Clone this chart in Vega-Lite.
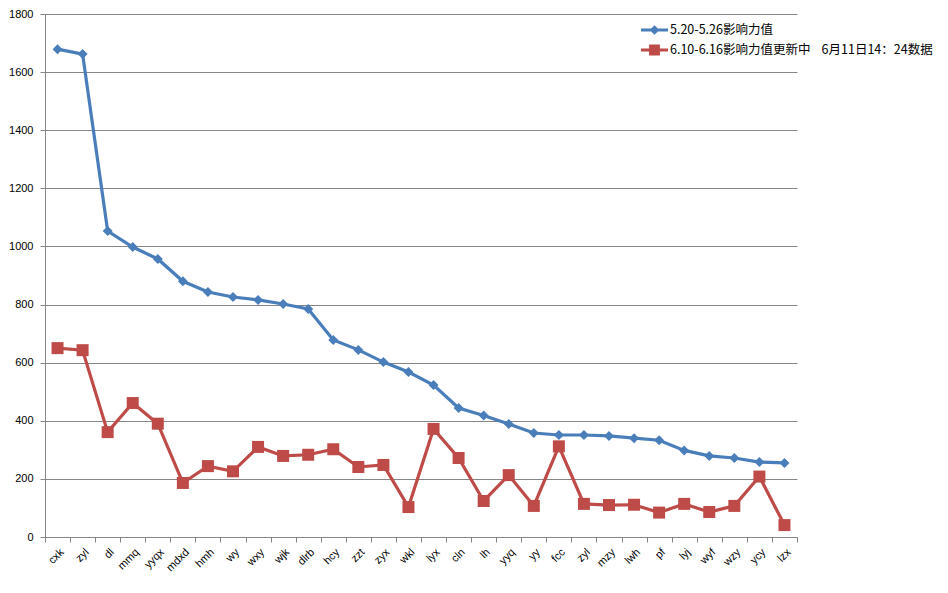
{
  "$schema": "https://vega.github.io/schema/vega-lite/v6.json",
  "width": 752,
  "height": 523,
  "autosize": "none",
  "padding": {"left": 45, "top": 14, "right": 151, "bottom": 56},
  "background": "white",
  "config": {"view": {"stroke": null}},
  "data": {"values": [
    {"k": "cxk", "s": "A", "v": 1679},
    {"k": "zyl", "s": "A", "v": 1662},
    {"k": "dl", "s": "A", "v": 1053},
    {"k": "mmq", "s": "A", "v": 998},
    {"k": "yyqx", "s": "A", "v": 957},
    {"k": "mdxd", "s": "A", "v": 880},
    {"k": "hmh", "s": "A", "v": 843},
    {"k": "wy", "s": "A", "v": 826},
    {"k": "wxy", "s": "A", "v": 816},
    {"k": "wjk", "s": "A", "v": 802},
    {"k": "dlrb", "s": "A", "v": 785},
    {"k": "hcy", "s": "A", "v": 678},
    {"k": "zzt", "s": "A", "v": 644},
    {"k": "zyx", "s": "A", "v": 602},
    {"k": "wkl", "s": "A", "v": 568},
    {"k": "lyx", "s": "A", "v": 523},
    {"k": "cln", "s": "A", "v": 444},
    {"k": "lh", "s": "A", "v": 418},
    {"k": "yyq", "s": "A", "v": 389},
    {"k": "yy", "s": "A", "v": 358},
    {"k": "fcc", "s": "A", "v": 351},
    {"k": "zyl_2", "s": "A", "v": 351},
    {"k": "mzy", "s": "A", "v": 348},
    {"k": "lwh", "s": "A", "v": 340},
    {"k": "pf", "s": "A", "v": 333},
    {"k": "lyj", "s": "A", "v": 298},
    {"k": "wyf", "s": "A", "v": 279},
    {"k": "wzy", "s": "A", "v": 272},
    {"k": "ycy", "s": "A", "v": 258},
    {"k": "lzx", "s": "A", "v": 255},
    {"k": "cxk", "s": "B", "v": 650},
    {"k": "zyl", "s": "B", "v": 643},
    {"k": "dl", "s": "B", "v": 361},
    {"k": "mmq", "s": "B", "v": 461},
    {"k": "yyqx", "s": "B", "v": 390},
    {"k": "mdxd", "s": "B", "v": 186},
    {"k": "hmh", "s": "B", "v": 244},
    {"k": "wy", "s": "B", "v": 226},
    {"k": "wxy", "s": "B", "v": 310},
    {"k": "wjk", "s": "B", "v": 279},
    {"k": "dlrb", "s": "B", "v": 283},
    {"k": "hcy", "s": "B", "v": 302},
    {"k": "zzt", "s": "B", "v": 241},
    {"k": "zyx", "s": "B", "v": 248},
    {"k": "wkl", "s": "B", "v": 103},
    {"k": "lyx", "s": "B", "v": 372},
    {"k": "cln", "s": "B", "v": 272},
    {"k": "lh", "s": "B", "v": 124},
    {"k": "yyq", "s": "B", "v": 213},
    {"k": "yy", "s": "B", "v": 107},
    {"k": "fcc", "s": "B", "v": 312},
    {"k": "zyl_2", "s": "B", "v": 114},
    {"k": "mzy", "s": "B", "v": 110},
    {"k": "lwh", "s": "B", "v": 111},
    {"k": "pf", "s": "B", "v": 84},
    {"k": "lyj", "s": "B", "v": 114},
    {"k": "wyf", "s": "B", "v": 86},
    {"k": "wzy", "s": "B", "v": 107},
    {"k": "ycy", "s": "B", "v": 208},
    {"k": "lzx", "s": "B", "v": 41}
  ]},
  "encoding": {
    "x": {
      "field": "k", "type": "nominal", "sort": null,
      "scale": {"type": "band", "paddingInner": 0, "paddingOuter": 0},
      "axis": {
        "title": null, "labelAngle": -45,
        "labelExpr": "datum.value ? split(datum.value, '_')[0] : ''",
        "tickBand": "extent", "tickSize": 5,
        "domainColor": "#868686", "tickColor": "#868686",
        "labelFont": "Liberation Sans", "labelFontSize": 11, "labelColor": "#000000",
        "labelPadding": 4
      }
    },
    "y": {
      "field": "v", "type": "quantitative",
      "scale": {"domain": [0, 1800], "nice": false},
      "axis": {
        "title": null, "format": "d",
        "values": [0, 200, 400, 600, 800, 1000, 1200, 1400, 1600, 1800],
        "grid": true, "gridColor": "#868686", "gridOpacity": 1,
        "tickSize": 5, "tickColor": "#868686", "domainColor": "#868686",
        "labelFont": "Liberation Sans", "labelFontSize": 11, "labelColor": "#000000",
        "labelPadding": 7
      }
    },
    "color": {
      "field": "s", "type": "nominal",
      "scale": {"domain": ["A", "B"], "range": ["#4a7ebb", "#be4b48"]},
      "legend": {
        "title": null, "orient": "none", "legendX": 596, "legendY": 2.5,
        "padding": 0, "symbolSize": 729, "labelOffset": 2, "rowPadding": 0,
        "labelFont": "Noto Sans CJK SC", "labelFontSize": 12.5, "labelColor": "#000000",
        "labelLimit": 400,
        "labelExpr": "datum.value === 'A' ? '5.20-5.26影响力值' : '6.10-6.16影响力值更新中\u00a0\u00a0\u00a0\u00a06月11日14：24数据'",
        "encode": {
          "symbols": {
            "update": {
              "shape": {"signal": "datum.value === 'A' ? 'M-1,-0.11H1V0.11H-1Z M0,-0.36L0.36,0L0,0.36L-0.36,0Z' : 'M-1,-0.11H1V0.11H-1Z M-0.4,-0.4H0.4V0.4H-0.4Z'"},
              "fill": {"signal": "datum.value === 'A' ? '#4a7ebb' : '#be4b48'"},
              "size": {"value": 729},
              "strokeWidth": {"value": 0},
              "opacity": {"value": 1},
              "fillOpacity": {"value": 1}
            }
          }
        }
      }
    }
  },
  "layer": [
    {"mark": {"type": "line", "strokeWidth": 3.2}},
    {
      "transform": [{"filter": "datum.s === 'A'"}],
      "mark": {"type": "point", "filled": true, "opacity": 1, "shape": "diamond", "size": 100}
    },
    {
      "transform": [{"filter": "datum.s === 'B'"}],
      "mark": {"type": "point", "filled": true, "opacity": 1, "shape": "square", "size": 144}
    }
  ]
}
